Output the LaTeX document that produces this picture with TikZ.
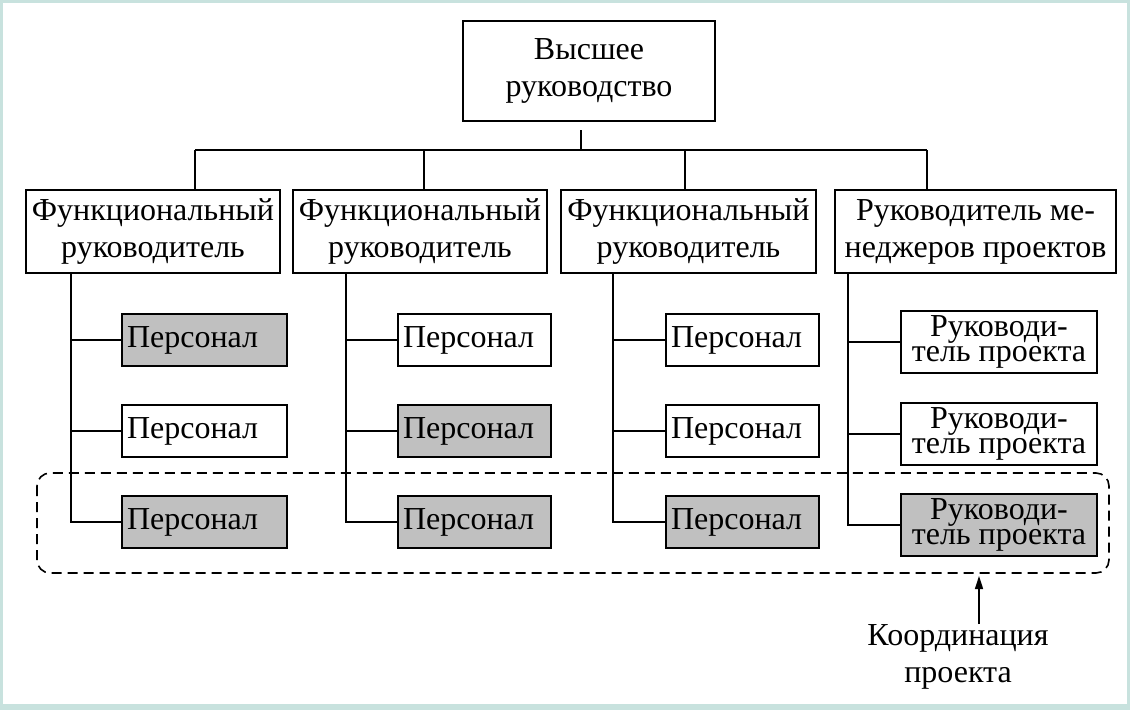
\documentclass[tikz,border=0pt]{standalone}
\usepackage{fontspec}
\setmainfont{Liberation Serif}
\usetikzlibrary{arrows.meta}

\definecolor{framecol}{RGB}{200,226,222}
\definecolor{staffgrey}{RGB}{192,192,192}

\newcommand\leadfont{\fontsize{32}{25}\selectfont\lineskiplimit=-50pt\relax}

\tikzset{
  box/.style={draw, line width=2.4pt, inner sep=0pt, align=center,
    font=\fontsize{32}{37}\selectfont},
  staff/.style={box, inner xsep=5pt, minimum height=52, align=left},
  lead/.style={box, minimum width=196, minimum height=62, font=\leadfont},
  wire/.style={line width=1.6pt},
  coordbox/.style={line width=1.6pt, dash pattern=on 10pt off 6pt, rounded corners=13pt}
}

\begin{document}
\begin{tikzpicture}[x=1pt,y=-1pt]

% Frame
\fill[framecol] (0,0) rectangle (1130,710);
\fill[white] (3,3) rectangle (1127,704);

% Top management
\node[box, minimum width=252, minimum height=100] (top) at (589,71) {Высшее\\руководство};

% Functional managers and project managers head
\node[box, minimum width=254, minimum height=83] (f1) at (153,231.5) {Функциональный\\руководитель};
\node[box, minimum width=254, minimum height=83] (f2) at (420,231.5) {Функциональный\\руководитель};
\node[box, minimum width=255, minimum height=83] (f3) at (688.5,231.5) {Функциональный\\руководитель};
\node[box, minimum width=281, minimum height=83] (f4) at (975.5,231.5) {Руководитель ме-\\неджеров проектов};

% Staff, column 1
\node[staff, text width=155, fill=staffgrey] (p11) at (204.5,340) {Персонал};
\node[staff, text width=155, fill=white] (p12) at (204.5,431) {Персонал};
\node[staff, text width=155, fill=staffgrey] (p13) at (204.5,522) {Персонал};

% Staff, column 2
\node[staff, text width=143, fill=white] (p21) at (474.5,340) {Персонал};
\node[staff, text width=143, fill=staffgrey] (p22) at (474.5,431) {Персонал};
\node[staff, text width=143, fill=staffgrey] (p23) at (474.5,522) {Персонал};

% Staff, column 3
\node[staff, text width=143, fill=white] (p31) at (742.5,340) {Персонал};
\node[staff, text width=143, fill=white] (p32) at (742.5,431) {Персонал};
\node[staff, text width=143, fill=staffgrey] (p33) at (742.5,522) {Персонал};

% Project managers
\node[lead, fill=white] (p41) at (999,342) {Руководи-\\тель проекта};
\node[lead, fill=white] (p42) at (999,434) {Руководи-\\тель проекта};
\node[lead, fill=staffgrey] (p43) at (999,525) {Руководи-\\тель проекта};

% Bus under top management
\coordinate (tap) at (581,130);
\coordinate (d1) at (195,150);
\coordinate (d2) at (424,150);
\coordinate (d3) at (685,150);
\coordinate (d4) at (927,150);
\draw[wire] (tap) -- (tap |- d1);
\draw[wire] (d1) -- (d4);
\foreach \i in {1,...,4}
  \draw[wire] (d\i) -- (d\i |- f\i.north);

% Branches down to the staff
\foreach \i/\x in {1/71,2/346,3/613,4/848}{
  \coordinate (v\i) at (\x,0);
  \draw[wire] (f\i.south -| v\i) |- (p\i3.west);
  \draw[wire] (v\i |- p\i1.west) -- (p\i1.west);
  \draw[wire] (v\i |- p\i2.west) -- (p\i2.west);
}

% Project coordination
\draw[coordbox] (37,473) rectangle (1109,573);
\node[font=\fontsize{32}{37}\selectfont, align=center, inner sep=0pt, anchor=north] (coord) at (958,624) {Координация\\проекта};
\coordinate (ctip) at (979,576);
\draw[wire, -{Triangle[length=13pt, width=8pt]}] (coord.north -| ctip) -- (ctip);

\end{tikzpicture}
\end{document}
